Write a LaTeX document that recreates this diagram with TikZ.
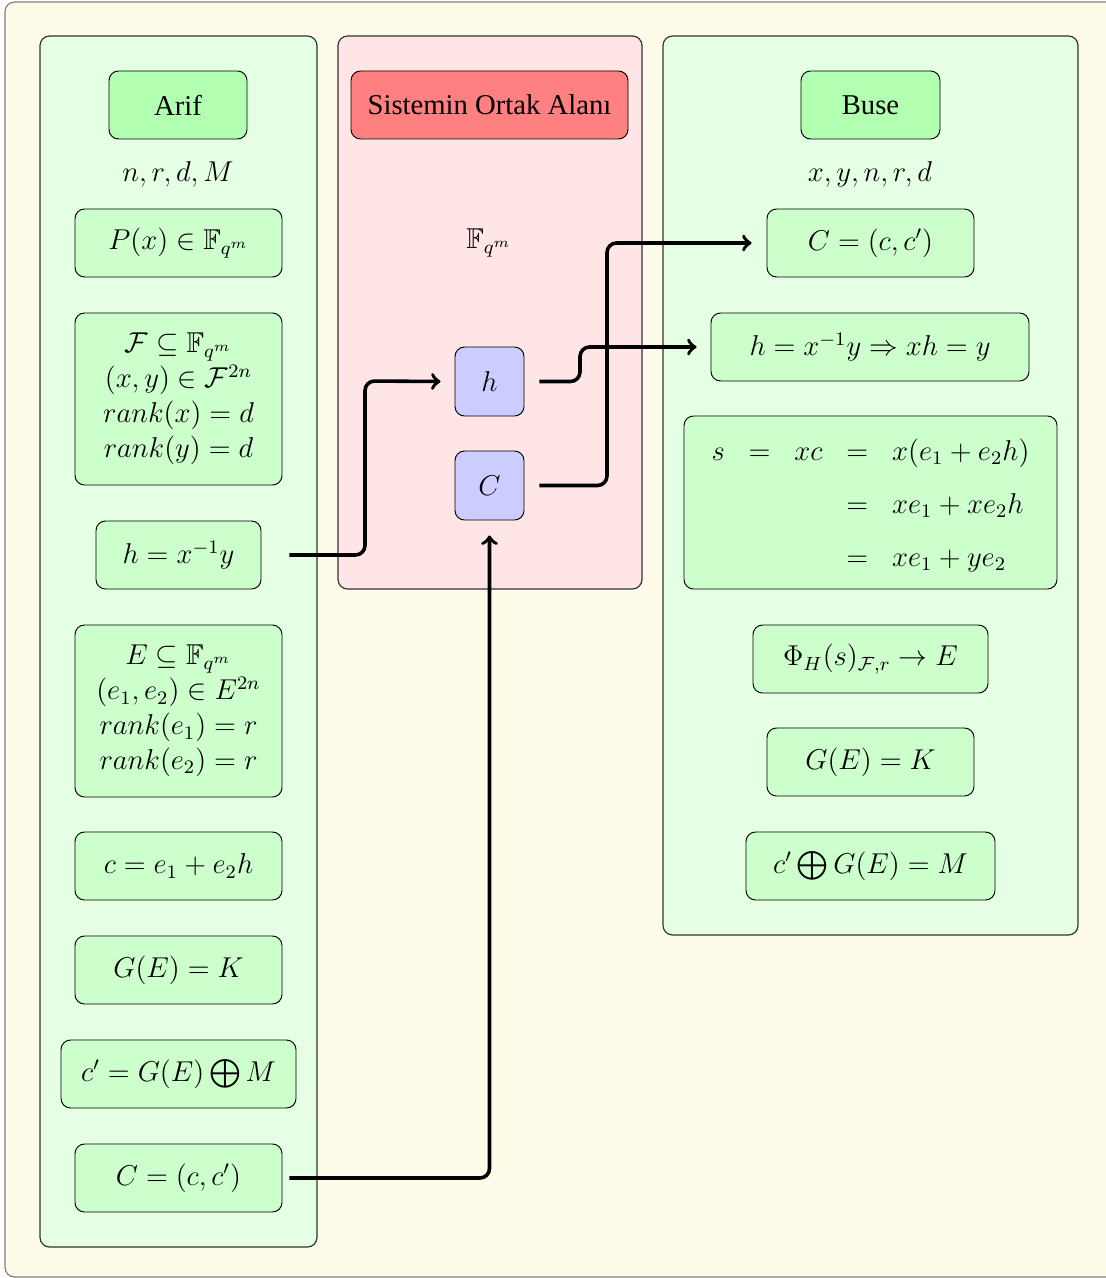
\documentclass[tikz,border=0pt,12pt]{standalone}
\usepackage{amsmath,amssymb}
\usepackage[no-math]{fontspec}
\setmainfont{Liberation Serif}
\usetikzlibrary{calc}
\newcommand\unitpx{0.4184pt}
\definecolor{pagebg}{RGB}{255,251,233}
\begin{document}
\begin{tikzpicture}[x=\unitpx,y=-\unitpx,
  frame/.style={draw=black!50,line width=0.5pt,fill=pagebg,rounded corners=4pt},
  panel/.style={draw=black!80,line width=0.5pt,rounded corners=4pt},
  greenbox/.style={draw=black,line width=0.4pt,rounded corners=4pt,fill=green!20,
    inner sep=0pt,minimum height=68*\unitpx,minimum width=207*\unitpx},
  headbox/.style={greenbox,fill=green!30},
  bluebox/.style={greenbox,fill=blue!20,minimum width=69*\unitpx,minimum height=69*\unitpx},
  stack/.style={align=center,font=\fontsize{12}{14.6}\selectfont},
  flowarrow/.style={->,line width=1.5pt,rounded corners=4pt}
]
\useasboundingbox (0,0) rectangle (1105,1278);
\draw[frame] (5,2) rectangle (1130,1277);

% three areas
\draw[panel,fill=green!10] (40,36) rectangle (317,1247);
\draw[panel,fill=red!10] (338,36) rectangle (642,589);
\draw[panel,fill=green!10] (663,36) rectangle (1078,935);

% Arif
\node[headbox,minimum width=138*\unitpx] (arif) at (178,105) {Arif};
\node (arifpar) at (178,174) {$n, r, d, M$};
\node[greenbox] (px) at (178.5,243) {$P(x) \in \mathbb{F}_{q^m}$};
\node[greenbox,stack,minimum height=172*\unitpx] (fset) at (178.5,399)
  {$\mathcal{F} \subseteq \mathbb{F}_{q^m}$\\ $(x, y) \in \mathcal{F}^{2n}$\\ $rank(x) = d$\\ $rank(y) = d$};
\node[greenbox,minimum width=165*\unitpx] (hl) at (178.5,555) {$h = x^{-1}y$};
\node[greenbox,stack,minimum height=172*\unitpx] (eset) at (178.5,711)
  {$E \subseteq \mathbb{F}_{q^m}$\\ $(e_1, e_2) \in E^{2n}$\\ $rank(e_1) = r$\\ $rank(e_2) = r$};
\node[greenbox] (cl) at (178.5,866) {$c = e_1 + e_2h$};
\node[greenbox] (gl) at (178.5,970) {$G(E) = K$};
\node[greenbox,minimum width=235*\unitpx] (cpl) at (178.5,1074) {$c' = G(E) \bigoplus M$};
\node[greenbox] (bigcl) at (178.5,1178) {$C = (c, c')$};

% shared area
\node[headbox,fill=red!50,minimum width=277*\unitpx] (common) at (489.5,105) {Sistemin Ortak Alanı};
\node (field) at (489,243) {$\mathbb{F}_{q^m}$};
\node[bluebox] (hm) at (489.5,381.5) {$h$};
\node[bluebox] (cm) at (489.5,485.5) {$C$};

% Buse
\node[headbox,minimum width=139*\unitpx] (buse) at (870.5,105) {Buse};
\node (busepar) at (870,174) {$x, y, n, r, d$};
\node[greenbox] (bigcr) at (870.5,243) {$C = (c, c')$};
\node[greenbox,minimum width=318*\unitpx] (hr) at (870,347) {$h = x^{-1}y \Rightarrow xh = y$};
\node[greenbox,minimum width=373*\unitpx,minimum height=173*\unitpx] (sr) at (870.5,502.5)
  {\renewcommand\arraystretch{1.53}$\begin{array}{rcrcl}
   s & = & xc & = & x(e_1 + e_2h)\\
     &   &    & = & xe_1 + xe_2h\\
     &   &    & = & xe_1 + ye_2
   \end{array}$};
\node[greenbox,minimum width=235*\unitpx] (phir) at (870.5,659) {$\Phi_H(s)_{\mathcal{F},r} \rightarrow E$};
\node[greenbox] (gr) at (870.5,762) {$G(E) = K$};
\node[greenbox,minimum width=249*\unitpx] (cpr) at (870.5,866) {$c' \bigoplus G(E) = M$};

% connectors
\draw[flowarrow] ([xshift=28*\unitpx]hl.east) -| (365,381) -- ([xshift=-14*\unitpx]hm.west);
\draw[flowarrow] ([xshift=15*\unitpx]hm.east) -| (580,347) -- ([xshift=-14*\unitpx]hr.west);
\draw[flowarrow] ([xshift=15*\unitpx]cm.east) -| (607,243) -- ([xshift=-15*\unitpx]bigcr.west);
\draw[flowarrow] ([xshift=7*\unitpx]bigcl.east) -| ([yshift=-15*\unitpx]cm.south);
\end{tikzpicture}
\end{document}
